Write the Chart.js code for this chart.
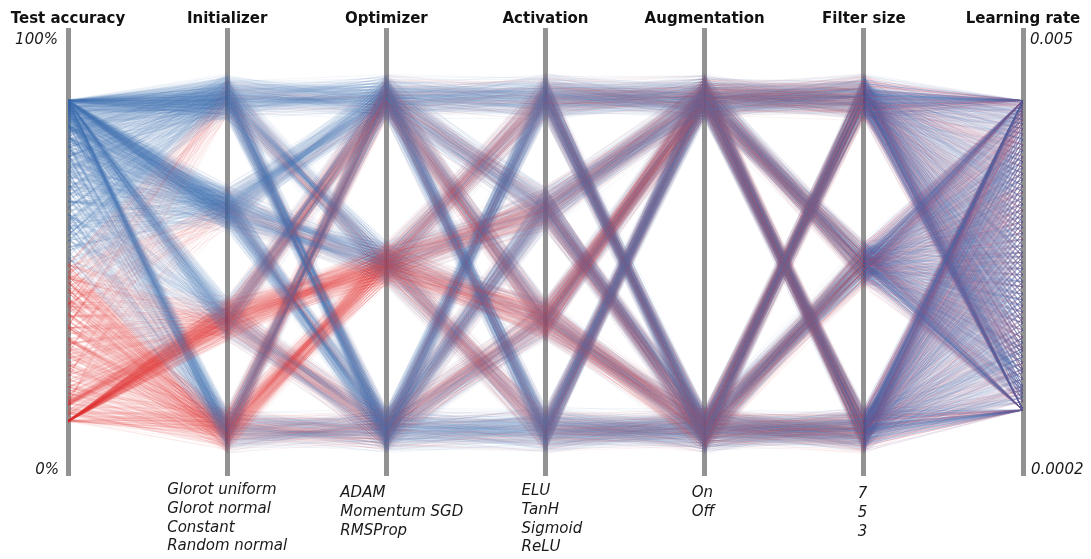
<!DOCTYPE html>
<html>
<head>
<meta charset="utf-8">
<script src="https://cdn.jsdelivr.net/npm/chart.js@4.4.1/dist/chart.umd.min.js"></script>
<style>
  html, body { margin: 0; padding: 0; background: #ffffff; }
  #wrap { width: 1091px; height: 559px; }
</style>
</head>
<body>
<div id="wrap"><canvas id="chart" width="1091" height="559"></canvas></div>
<script>
// ---- axes and categories -------------------------------------------------
const axisTitles = ['Test accuracy', 'Initializer', 'Optimizer', 'Activation', 'Augmentation', 'Filter size', 'Learning rate'];
const initializers = ['Glorot uniform', 'Glorot normal', 'Constant', 'Random normal'];
const optimizers = ['ADAM', 'Momentum SGD', 'RMSProp'];
const activations = ['ELU', 'TanH', 'Sigmoid', 'ReLU'];
const augmentations = ['On', 'Off'];
const filterSizes = ['7', '5', '3'];
const accuracyTicks = ['100%', '0%'];
const learningRateTicks = ['0.005', '0.0002'];
const learningRateRange = [0.0002, 0.005];

// learning rates of the runs (72 settings)
const learningRates = [
  0.003, 0.003, 0.003, 0.003, 0.003, 0.003, 0.003, 0.003,
  0.00032, 0.00032, 0.00032, 0.00032, 0.00032, 0.00032, 0.00032, 0.00032,
  0.00034, 0.00035, 0.00036, 0.00037, 0.00038, 0.0004, 0.00042, 0.00043,
  0.00045, 0.00047, 0.00049, 0.0005, 0.00052, 0.00054, 0.00057, 0.0006,
  0.00062, 0.00065, 0.00068, 0.00071, 0.00074, 0.00078, 0.00081, 0.00085,
  0.00089, 0.00093, 0.00097, 0.001, 0.00105, 0.0011, 0.00115, 0.0012,
  0.00125, 0.0013, 0.00136, 0.00142, 0.00148, 0.00155, 0.00162, 0.0017,
  0.00177, 0.00185, 0.00193, 0.002, 0.0021, 0.00218, 0.00227, 0.00236,
  0.00245, 0.00254, 0.00262, 0.0027, 0.00277, 0.00284, 0.0029, 0.00295
];

// test accuracy (%) of the twelve repeated runs of each setting;
// rows: ADAM, Momentum SGD, RMSProp; inner lists: ELU, TanH, Sigmoid, ReLU
const accGlorotUniform = [
  [[84.1,83.6,84.3,80.9,84.0,77.2,83.9,82.4,84.2,73.5,81.7,84.0],
   [83.9,79.8,84.1,70.6,82.3,63.9,77.4,84.0,57.2,74.8,81.1,67.5],
   [82.7,61.8,79.3,44.6,84.0,70.2,53.9,75.6,38.1,66.4,81.5,49.7],
   [84.2,84.0,82.8,84.3,79.6,83.7,84.1,75.3,83.1,84.0,81.2,77.9]],
  [[83.8,78.4,84.2,69.3,81.6,56.8,84.0,74.1,62.7,82.9,52.4,77.0],
   [82.1,71.5,76.8,45.3,83.5,60.2,66.9,36.7,79.7,53.8,73.6,49.0],
   [77.9,42.6,64.3,21.8,71.7,33.4,56.2,15.9,68.8,47.5,27.2,60.1],
   [84.1,80.3,83.4,71.9,84.2,64.5,77.6,55.1,82.2,68.0,74.7,59.8]],
  [[84.0,82.6,84.2,78.1,83.7,71.4,84.1,80.5,75.2,83.3,68.6,81.9],
   [83.6,76.2,81.8,62.9,84.0,69.1,79.0,52.6,82.7,57.3,73.8,66.0],
   [81.4,58.7,76.9,39.8,83.1,64.6,47.1,71.5,33.6,79.2,54.0,68.3],
   [84.3,83.9,84.0,79.8,82.5,84.2,76.4,83.4,72.7,84.1,81.0,78.6]]
];
const accGlorotNormal = [
  [[84.2,83.1,84.0,79.4,83.8,75.8,84.1,81.6,71.9,83.5,84.0,78.2],
   [84.0,78.3,82.9,68.1,83.7,61.4,75.9,80.6,55.7,72.4,84.1,65.0],
   [81.9,59.6,77.8,42.3,83.6,68.7,51.2,73.9,36.4,63.5,80.3,47.8],
   [84.1,83.9,84.3,81.4,84.0,78.1,82.9,84.2,74.6,83.5,80.2,84.0]],
  [[84.0,79.7,83.3,70.8,84.2,58.3,81.9,75.5,64.1,82.6,53.9,77.7],
   [83.4,72.9,78.2,46.8,84.0,61.6,68.3,38.4,80.8,55.3,75.1,50.5],
   [78.6,44.1,65.7,23.2,72.8,34.9,57.6,17.3,69.9,48.6,28.8,61.4],
   [84.2,81.2,83.8,73.3,84.0,66.0,78.9,56.6,82.7,69.4,75.8,61.2]],
  [[84.1,81.8,84.0,77.0,83.4,70.1,84.2,79.6,73.8,82.8,67.2,80.7],
   [83.9,75.0,81.2,61.5,84.1,67.6,77.9,51.1,82.2,55.9,72.5,64.7],
   [80.8,57.2,75.6,38.3,82.7,63.1,45.6,70.4,32.1,78.5,52.7,67.0],
   [84.2,83.6,84.0,78.5,81.9,84.1,75.1,83.0,71.3,84.3,80.1,77.4]]
];
const accConstant = [
  [[84.1,83.7,84.0,62.4,80.9,12.1,84.2,41.5,76.3,27.9,83.2,52.6],
   [83.9,44.7,71.8,12.3,79.2,33.1,58.4,19.6,84.0,26.2,64.9,38.8],
   [68.5,22.4,47.2,12.0,56.9,16.8,35.6,12.4,61.7,29.3,41.1,12.2],
   [84.2,82.6,84.0,66.8,83.4,14.5,84.1,47.3,78.9,31.7,81.5,56.0]],
  [[12.0,12.1,11.9,16.2,12.0,12.2,15.8,12.1,16.6,12.0,11.9,15.5],
   [12.1,16.4,12.0,11.9,17.1,12.2,12.0,15.9,12.1,19.8,12.0,16.3],
   [12.0,11.9,12.1,12.0,15.7,12.2,12.0,11.9,16.1,12.1,12.0,13.4],
   [12.1,15.9,12.0,17.4,12.2,16.5,12.0,18.6,11.9,16.0,12.1,21.3]],
  [[84.0,82.9,84.2,58.7,79.4,12.2,83.8,37.9,73.6,25.3,81.7,48.4],
   [82.4,42.0,68.9,12.1,76.5,30.6,55.1,18.2,80.7,24.4,61.3,35.9],
   [65.2,20.7,44.3,12.0,53.8,15.6,33.0,12.3,58.6,27.1,38.5,12.1],
   [84.1,81.3,84.0,63.5,82.2,13.8,83.9,44.2,76.7,29.6,80.0,52.8]]
];
const accRandomNormal = [
  [[84.0,79.1,83.6,56.4,84.2,38.7,74.5,24.1,81.8,47.9,68.2,30.6],
   [83.7,64.2,78.8,33.5,81.4,44.9,55.6,14.2,72.3,24.7,84.0,39.8],
   [71.6,36.2,58.3,12.1,65.9,21.5,46.4,13.7,52.2,28.9,41.0,17.6],
   [84.1,80.6,84.0,58.9,83.3,41.8,76.7,26.5,82.5,50.3,70.4,33.2]],
  [[45.8,33.1,41.6,18.4,37.9,13.2,28.5,44.0,23.7,39.3,15.9,31.0],
   [43.5,29.4,38.1,15.2,34.6,12.3,24.8,41.7,19.9,36.2,13.8,27.1],
   [35.7,22.6,30.4,12.2,26.9,12.0,18.3,33.8,14.6,28.1,12.4,20.5],
   [47.1,34.8,43.2,19.7,39.6,14.1,30.2,45.4,25.3,41.0,17.0,32.7]],
  [[84.2,81.0,84.0,60.3,83.1,44.7,77.8,30.2,82.4,53.6,71.9,36.4],
   [83.8,67.1,80.2,37.4,82.6,49.1,58.8,16.3,75.0,27.5,84.1,43.2],
   [73.9,38.6,60.8,12.3,68.1,23.4,48.9,14.9,55.2,30.7,43.5,19.2],
   [84.0,82.1,84.2,62.7,83.7,47.0,79.3,33.1,82.9,56.5,74.2,38.9]]
];
const accuracyByInitializer = [accGlorotUniform, accGlorotNormal, accConstant, accRandomNormal];

// ---- drawing helpers --------------------------------------------------------
const CAT_TOP = 0.849, CAT_BOTTOM = 0.101;   // where the first / last category sits on an axis
const SPREAD = 0.055;                         // half width of a category bundle
const BLUE = 'rgba(70,125,185,0.065)';
const RED = 'rgba(226,60,62,0.068)';
const BLUE_LR = 'rgba(72,115,180,0.09)';
const RED_LR = 'rgba(205,70,90,0.075)';

function categoryPos(index, count) {
  return CAT_TOP - index * (CAT_TOP - CAT_BOTTOM) / (count - 1);
}
function frac(v) { return v - Math.floor(v); }
const stepA = [0.6180339887, 0.4142135624, 0.7320508076, 0.2360679775, 0.1622776602];
const stepB = [0.3166247904, 0.6457513111, 0.8284271247, 0.1231056256, 0.5830951895];
function bundleOffset(k, j) {
  return (frac((k + 1) * stepA[j]) + frac((k + 1) * stepB[j]) - 1) * SPREAD;
}
function lrPos(v) {
  return Math.log(v / learningRateRange[0]) / Math.log(learningRateRange[1] / learningRateRange[0]);
}
// spreads the learning-rate settings evenly over the runs
function lrSlot(k) {
  return Math.floor(frac((k + 1) * 0.7548776662) * learningRates.length);
}

// ---- one line per run -------------------------------------------------------
const runs = [];
initializers.forEach((_, i) => optimizers.forEach((_, o) => activations.forEach((_, a) =>
  augmentations.forEach((_, g) => filterSizes.forEach((_, f) =>
    accuracyByInitializer[i][o][a].forEach((acc) => {
      const k = runs.length;
      runs.push({ k, acc, init: i, opt: o, act: a, aug: g, filter: f, lr: learningRates[lrSlot(k)] });
    }))))));

function runLine(run) {
  const k = run.k;
  const cats = [[run.init, initializers.length], [run.opt, optimizers.length], [run.act, activations.length],
                [run.aug, augmentations.length], [run.filter, filterSizes.length]];
  const pts = [{ x: 0, y: run.acc / 100 }];
  cats.forEach(([idx, n], j) => pts.push({ x: j + 1, y: categoryPos(idx, n) + bundleOffset(k, j) }));
  pts.push({ x: 6, y: lrPos(run.lr) });
  const low = run.acc <= 47.5;
  const lrColor = low ? RED_LR : BLUE_LR;
  return {
    data: pts,
    borderColor: low ? RED : BLUE,
    segment: { borderColor: (c) => (c.p0DataIndex === 5 ? lrColor : undefined) },
    borderWidth: 1,
    pointRadius: 0,
    tension: 0,
    fill: false
  };
}

// paint the runs in an interleaved order so no group sits on top of the others
const paintOrder = runs.slice().sort((p, q) => frac((p.k + 1) * 0.6180339887) - frac((q.k + 1) * 0.6180339887));
const datasets = paintOrder.map(runLine);

// ---- vertical axes ------------------------------------------------------------
const scales = {
  x: { type: 'linear', min: 0, max: 6, display: false },
  y: { type: 'linear', min: 0, max: 1, display: false }
};
axisTitles.forEach((_, i) => {
  scales['axis' + i] = {
    type: 'linear', axis: 'y', position: { x: i }, min: 0, max: 1, z: 1,
    grid: { display: false, drawTicks: false },
    ticks: { display: false },
    border: { display: true, color: '#929292', width: 5 }
  };
});

// ---- titles, end values and category names ----------------------------------
const textPlugin = {
  id: 'axisText',
  afterDraw(chart) {
    const ctx = chart.ctx;
    const xs = chart.scales.x;
    ctx.save();
    ctx.fillStyle = '#111111';
    ctx.font = 'bold 15px "DejaVu Sans"';
    ctx.textAlign = 'center';
    ctx.textBaseline = 'alphabetic';
    axisTitles.forEach((t, i) => ctx.fillText(t, xs.getPixelForValue(i), 23));

    ctx.font = 'italic 15px "DejaVu Sans"';
    ctx.fillStyle = '#1a1a1a';
    ctx.textAlign = 'right';
    ctx.fillText(accuracyTicks[0], xs.getPixelForValue(0) - 10, 44);
    ctx.fillText(accuracyTicks[1], xs.getPixelForValue(0) - 9, 474);
    ctx.textAlign = 'left';
    ctx.fillText(learningRateTicks[0], xs.getPixelForValue(6) + 7, 44);
    ctx.fillText(learningRateTicks[1], xs.getPixelForValue(6) + 8, 474);

    const lists = [initializers, optimizers, activations, augmentations, filterSizes];
    const shift = [60, 46, 24, 13, 6];
    const firstBaseline = [494, 497, 495, 497, 498];
    lists.forEach((list, j) => {
      const left = xs.getPixelForValue(j + 1) - shift[j];
      list.forEach((name, n) => ctx.fillText(name, left, firstBaseline[j] + n * 18.8));
    });
    ctx.restore();
  }
};

new Chart(document.getElementById('chart'), {
  type: 'line',
  data: { datasets },
  options: {
    responsive: false,
    animation: false,
    events: [],
    layout: { padding: { left: 68, right: 68, top: 30, bottom: 84 } },
    scales,
    plugins: { legend: { display: false }, tooltip: { enabled: false } }
  },
  plugins: [textPlugin]
});
</script>
</body>
</html>
